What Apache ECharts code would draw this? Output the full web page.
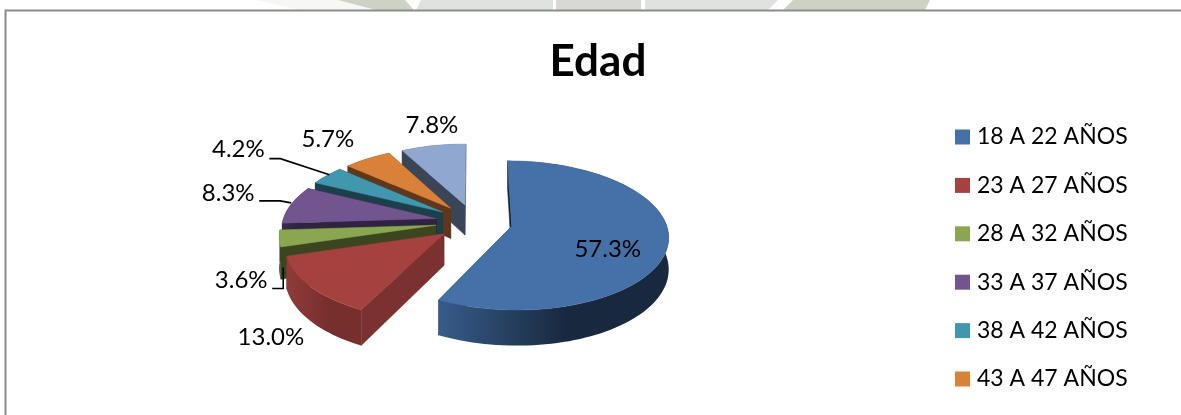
<!DOCTYPE html>
<html>
<head>
<meta charset="utf-8">
<style>html,body{margin:0;padding:0;background:#fff}#chart{width:1181px;height:415px}</style>
<script src="https://cdn.jsdelivr.net/npm/echarts@6/dist/echarts.min.js"></script>
</head>
<body>
<div id="chart"></div>
<script>
// Age groups and their share of respondents (%)
const categories = ['18 A 22 AÑOS', '23 A 27 AÑOS', '28 A 32 AÑOS', '33 A 37 AÑOS', '38 A 42 AÑOS', '43 A 47 AÑOS', '48 A 52 AÑOS'];
const shares = [57.3, 13.0, 3.6, 8.3, 4.2, 5.7, 7.8];

// Slice colours: top face, radial wall, rim gradient (left, right)
const faceColors = ['#4571a8', '#a5413f', '#8aa650', '#72558f', '#4097ae', '#d98139', '#90a7cf'];
const wallColors = ['#152538', '#7a3130', '#3b4620', '#2f2341', '#1c3f4b', '#60371a', '#3b4558'];
const rimLeft = ['#375c8a', '#903b39', '#3b4620', '#3a2b50', '#1c3f4b', '#60371a', '#3b4558'];
const rimRight = ['#18293f', '#772f2e', '#3b4620', '#2f2341', '#1c3f4b', '#60371a', '#3b4558'];

// Label placement relative to each slice's rim, and leader-line bends on the same basis
const labelNudges = [[-60.5, 6], [-39.6, 51], [-38, 42], [-62.5, -12], [-88.25, -26], [-39.5, -19], [-1.4, -20]];
const leaderBends = [null, null, [[-7, 50], [4, 50], [4, 29]], [[-31.5, -4], [-10.5, -4], [0.5, -2]], [[-57.25, -17], [-46.25, -17], [2.75, -1]], null, null];

// Watermark fragments showing above the chart frame: top-left, top-right, bottom-right, bottom-left x
const backdropBands = [
  { edge: [256, 340, 378, 300], fill: '#f7f7f4' },
  { edge: [338, 405, 414, 376], fill: '#cdd3c4' },
  { edge: [421, 553, 553, 416], fill: '#dfe3df' },
  { edge: [556, 641, 641, 556], fill: '#d8d9d3' },
  { edge: [645, 778, 768, 645], fill: '#dfe3df' },
  { edge: [793, 930, 925, 783], fill: '#cdd3c4' }
];

// Perspective model of the exploded disc
const pie = { cx: 474, cy: 222, radius: 154, explode: 38.5, tilt: 0.47, depth: 31, persp: 0.0008 };
const total = shares.reduce((a, b) => a + b, 0);
const rad = d => d * Math.PI / 180;

function project(x, z, h) {
  const w = 1 / (1 - pie.persp * z);
  return [pie.cx + x * w, pie.cy + (pie.tilt * z + h) * w];
}

function sliceSpan(i) {
  let before = 0;
  for (let k = 0; k < i; k++) before += shares[k];
  const a0 = before / total * 360;
  const a1 = (before + shares[i]) / total * 360;
  return { a0, a1, mid: (a0 + a1) / 2 };
}

function sliceOffset(mid) {
  return { x: pie.explode * Math.sin(rad(mid)), z: -pie.explode * Math.cos(rad(mid)) };
}

function renderSlice(i) {
  const span = sliceSpan(i);
  const off = sliceOffset(span.mid);
  const at = (r, a, h) => project(off.x + r * Math.sin(rad(a)), off.z - r * Math.cos(rad(a)), h);
  const steps = Math.max(4, Math.ceil((span.a1 - span.a0) / 2));
  const topArc = [], lowArc = [];
  for (let s = 0; s <= steps; s++) {
    const a = span.a0 + (span.a1 - span.a0) * s / steps;
    topArc.push(at(pie.radius, a, 0));
    lowArc.push(at(pie.radius, a, pie.depth));
  }
  const apexTop = at(0, 0, 0), apexLow = at(0, 0, pie.depth);
  const solid = c => ({ fill: c, stroke: c, lineWidth: 0.5 });
  return {
    type: 'group',
    children: [
      { type: 'polygon', shape: { points: [apexTop, topArc[0], lowArc[0], apexLow] }, style: solid(wallColors[i]) },
      { type: 'polygon', shape: { points: [apexTop, topArc[steps], lowArc[steps], apexLow] }, style: solid(wallColors[i]) },
      {
        type: 'polygon',
        shape: { points: topArc.concat(lowArc.slice().reverse()) },
        style: { fill: new echarts.graphic.LinearGradient(0, 0, 1, 0, [
          { offset: 0, color: rimLeft[i] },
          { offset: 0.55, color: rimRight[i] },
          { offset: 1, color: rimRight[i] }
        ]) }
      },
      { type: 'polygon', shape: { points: [apexTop].concat(topArc) }, style: solid(faceColors[i]) }
    ]
  };
}

// Percentage text and leader line, anchored on the rim at the slice's mid-angle
function renderLabel(i, share) {
  const span = sliceSpan(i);
  const reach = pie.radius + pie.explode;
  const rim = project(reach * Math.sin(rad(span.mid)), -reach * Math.cos(rad(span.mid)), 0);
  const children = [];
  if (leaderBends[i]) {
    children.push({
      type: 'polyline',
      shape: { points: leaderBends[i].map(b => [rim[0] + b[0], rim[1] + b[1]]) },
      style: { fill: null, stroke: '#000', lineWidth: 1.6 }
    });
  }
  children.push({
    type: 'text',
    x: rim[0] + labelNudges[i][0],
    y: rim[1] + labelNudges[i][1],
    style: {
      text: share.toFixed(1) + '%',
      fill: '#000',
      font: '24px Lato',
      align: 'center',
      verticalAlign: 'middle'
    }
  });
  return { type: 'group', children };
}

// Slices nearer the viewer are painted later
const paintOrder = categories
  .map((_, i) => ({ i, z: sliceOffset(sliceSpan(i).mid).z }))
  .sort((p, q) => p.z - q.z)
  .map(p => p.i);

const sliceSeries = categories.map((name, i) => ({
  name,
  type: 'custom',
  coordinateSystem: 'none',
  z: 2 + paintOrder.indexOf(i),
  silent: true,
  animation: false,
  itemStyle: { color: faceColors[i] },
  data: [[shares[i]]],
  renderItem: () => renderSlice(i)
}));

const labelSeries = {
  name: 'Porcentajes',
  type: 'custom',
  coordinateSystem: 'none',
  z: 20,
  silent: true,
  animation: false,
  data: shares.map(v => [v]),
  renderItem: (params, api) => renderLabel(params.dataIndex, api.value(0))
};

const chart = echarts.init(document.getElementById('chart'), null, { renderer: 'canvas' });
chart.setOption({
  backgroundColor: '#ffffff',
  animation: false,
  title: {
    text: 'Edad',
    left: 598,
    top: 40,
    textAlign: 'center',
    padding: 0,
    textStyle: { fontFamily: 'Lato', fontWeight: 'bold', fontSize: 44, color: '#000' }
  },
  legend: {
    data: categories.slice(0, 6),
    orient: 'vertical',
    left: 955,
    top: 125.5,
    padding: 0,
    height: 285,
    itemWidth: 15,
    itemHeight: 15,
    itemGap: 25.4,
    icon: 'rect',
    selectedMode: false,
    textStyle: { fontFamily: 'Lato', fontSize: 23, color: '#000', lineHeight: 20, padding: [0, 0, 0, 2] }
  },
  graphic: backdropBands.map(b => ({
    type: 'polygon',
    silent: true,
    z: 0,
    shape: { points: [[b.edge[0], 0], [b.edge[1], 0], [b.edge[2], 10], [b.edge[3], 10]] },
    style: { fill: b.fill }
  })).concat([{
    type: 'polyline',
    silent: true,
    z: 1,
    shape: { points: [[5.5, 415], [5.5, 10.5], [1181, 10.5]] },
    style: { fill: null, stroke: '#8c8c8c', lineWidth: 2 }
  }]),
  series: sliceSeries.concat([labelSeries])
});
</script>
</body>
</html>
